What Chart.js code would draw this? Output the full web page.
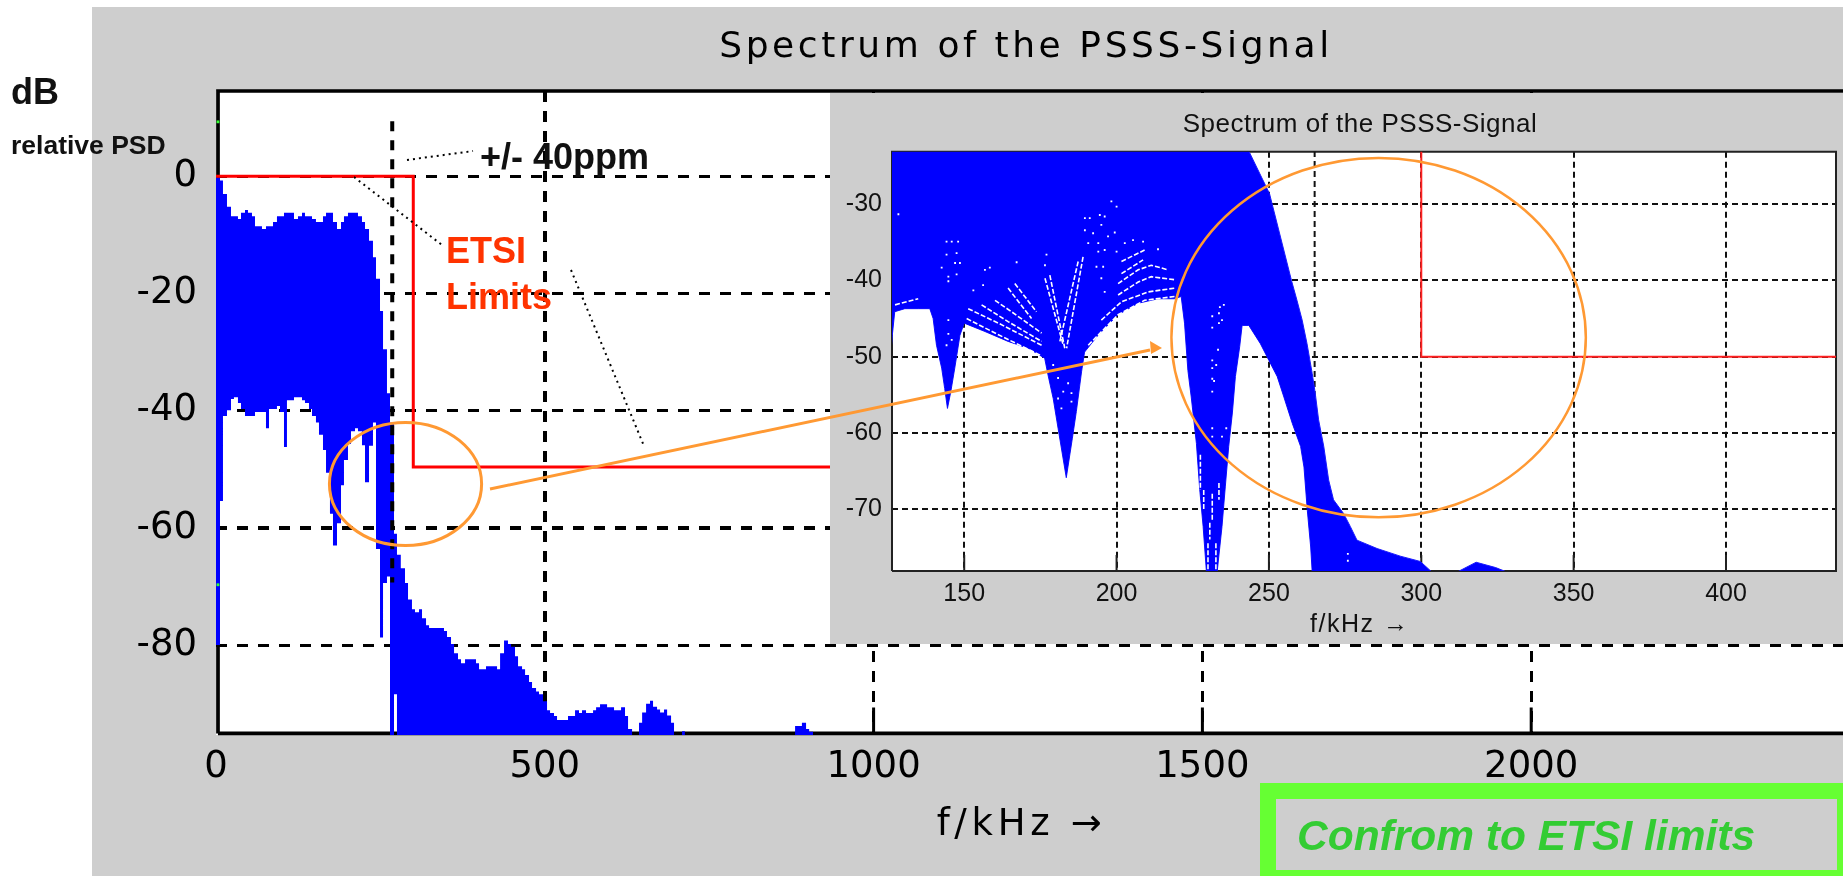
<!DOCTYPE html>
<html lang="en">
<head>
<meta charset="UTF-8">
<title>Spectrum of the PSSS-Signal</title>
<script src="https://cdn.jsdelivr.net/npm/chart.js"></script>
<style>
    html, body { margin: 0; width: 1843px; height: 876px; overflow: hidden; background: #fff; }
    canvas { position: absolute; background: #cecece; }
    #mainChart { left: 92px; top: 7px; }
    #insetChart { left: 830px; top: 93px; }
    #overlay { position: absolute; left: 0; top: 0; }
    .note { position: absolute; font-family: "Liberation Sans", Arial, sans-serif; font-weight: bold; line-height: 1; white-space: nowrap; }
    #confirmBox { position: absolute; left: 1260px; top: 783px; width: 583px; height: 93px; box-sizing: border-box;
        border: solid #66ff33; border-width: 16px 6px 6px 16px; }
</style>
</head>
<body>
<canvas id="mainChart" width="1868" height="869"></canvas>
<canvas id="insetChart" width="1060" height="551"></canvas>

<svg id="overlay" width="1843" height="876">
    <g stroke="#000" stroke-width="2" stroke-dasharray="2 4" fill="none">
        <line x1="354" y1="177" x2="442" y2="245"/>
        <line x1="571" y1="270" x2="644" y2="446"/>
        <line x1="407" y1="160" x2="473" y2="151"/>
    </g>
    <line x1="490" y1="489" x2="1150" y2="350" stroke="#ff9933" stroke-width="3"/>
    <polygon points="1162,348 1150,341 1151,354" fill="#ff9933"/>
</svg>

<div class="note" style="left:11px;top:74px;font-size:36px;color:#111">dB</div>
<div class="note" style="left:11px;top:132px;font-size:26.5px;color:#111">relative PSD</div>
<div class="note" style="left:480px;top:139px;font-size:36px;color:#111">+/- 40ppm</div>
<div class="note" style="left:446px;top:233px;font-size:36px;color:#ff3300">ETSI</div>
<div class="note" style="left:446px;top:279px;font-size:36px;color:#ff3300">Limits</div>
<div id="confirmBox"></div>
<div class="note" style="left:1297px;top:815px;font-size:42.5px;font-style:italic;color:#33cc33">Confrom to ETSI limits</div>

<script>
    // Main plot: the blue spectrum, one step per column
    const mainFreq = [0, 6, 10.6, 16.7, 22.8, 27.3, 33.4, 38, 44.1, 48.6, 54.7, 59.3, 65.4, 69.9, 76, 80.6, 86.7, 92.7, 97.3, 103.4,
        107.9, 114, 118.6, 124.7, 130.8, 135.3, 141.4, 146, 152, 156.6, 162.7, 167.3, 173.3, 177.9, 184, 190.1, 194.6, 200.7, 205.3, 211.4,
        215.9, 222, 226.6, 232.7, 238.7, 243.3, 249.4, 254, 260, 264.6, 270.7, 275.2, 281, 287.4, 292, 298, 302.6, 308.7, 313.3, 319.4,
        324, 346.7, 351.3, 357.4, 362, 368, 372.6, 378.7, 395.4, 400, 410.6, 427.4, 432, 438, 444, 448.7, 454.7, 459.3, 465.4, 470,
        476, 480.6, 486.7, 491.2, 497.3, 503.4, 508, 514, 518.6, 535.3, 546, 552, 556.6, 562.7, 573.4, 578, 584, 594.7, 605.3, 616,
        622, 626.6, 632.7, 643.3, 648, 654, 660, 664.6, 670.7, 675.3, 681.3, 686, 692, 696.5, 708.7, 713, 880.6, 891, 897.3, 902, 908];
    const mainUpperDb = [-0.2, -0.7, -3, -5.2, -6.8, -6.8, -7.3, -6.2, -5.75, -6.2, -6.8, -8.5, -8.5, -9, -8.5, -8.5, -7.8, -6.8, -6.8, -6.2,
        -6.2, -6.2, -7.3, -6.8, -6.2, -6.8, -6.8, -7.3, -7.8, -7.8, -6.8, -6.2, -6.2, -7.8, -9, -7.8, -6.8, -6.2, -6.2, -6.2,
        -6.8, -7.8, -9, -11, -13.8, -17.5, -23, -29.5, -37, -42, -61, -64.6, -66.9, -69.4, -72.2, -73.9, -74.4, -73.9, -75.4, -76.6,
        -77.1, -77.6, -78.6, -79.8, -81.4, -82.4, -83.1, -82.4, -83.1, -84.1, -83.6, -84.1, -81.4, -79.2, -79.8, -80.3, -81.9, -83.6, -84.1, -85.1,
        -86.3, -87.3, -87.9, -88.4, -89.6, -91.1, -91.6, -92.1, -92.8, -92.1, -91.1, -91.6, -91.1, -91.6, -91.1, -90.6, -90.1, -90.6, -91.1, -90.6,
        -92.1, -94.3, -95.4, -93.25, -91.5, -90, -89.5, -90.5, -91, -91.5, -91, -92, -93.25, -95.4, -94.7, -95.4, -93.8, -93.25, -94.3, -94.8, -95.4];
    const mainLowerDb = [-80, -55.4, -40.9, -39.9, -38, -37.7, -38.7, -39.7, -40.9, -40.9, -40.9, -40.2, -40.2, -40.2, -43, -39.7, -39.7, -39.2, -40.2, -46.2,
        -38.2, -38.2, -37.7, -37.7, -38.2, -38.7, -39.7, -40.9, -42, -44.1, -46.7, -50.6, -57.6, -63, -59.2, -52.7, -48.4, -45.7, -43.5, -43,
        -43.5, -45.9, -52.2, -46, -42, -63.6, -78.7, -69.4, -68.3, -95.4, -88.4, -95.4, -95.4, -95.4, -95.4, -95.4, -95.4, -95.4, -95.4, -95.4,
        -95.4, -95.4, -95.4, -95.4, -95.4, -95.4, -95.4, -95.4, -95.4, -95.4, -95.4, -95.4, -95.4, -95.4, -95.4, -95.4, -95.4, -95.4, -95.4, -95.4,
        -95.4, -95.4, -95.4, -95.4, -95.4, -95.4, -95.4, -95.4, -95.4, -95.4, -95.4, -95.4, -95.4, -95.4, -95.4, -95.4, -95.4, -95.4, -95.4, -95.4,
        -95.4, -95.4, -95.4, -95.4, -95.4, -95.4, -95.4, -95.4, -95.4, -95.4, -95.4, -95.4, -95.4, -95.4, -95.4, -95.4, -95.4, -95.4, -95.4, -95.4, -95.4];

    const limitFreq = [0, 300, 300, 2500];
    const limitDb = [0, 0, -49.6, -49.6];
    const driftFreq = [268, 268];
    const driftDb = [9.4, -69.3];
    const greenMarkFreq = [3, 3];
    const greenMarkDb = [9.3, -69.7];
    const mainXTicks = [0, 500, 1000, 1500, 2000];
    const mainYTicks = [-80, -60, -40, -20, 0];
    const mainCircle = { x: 288.2, y: -52.5, rx: 115.7, ry: 10.5 };

    // Zoomed plot: envelope of the spectrum
    const insetUpperFreq = [120, 243.4, 250.2, 257.4, 259.2, 260.9, 262.5, 264.2, 265.2, 266.3, 268, 269.6, 271.2, 274.5, 276.7, 278.9, 285.5, 293.1, 299.7, 303.5, 311.7, 318, 324.4, 328.2];
    const insetUpperDb = [-23, -23, -28.6, -40, -42.6, -45.2, -48.3, -52.2, -54.8, -58.3, -61.8, -66.2, -68.8, -70.6, -72.3, -74.1, -75.2, -76.2, -76.9, -78.3, -78.3, -77, -77.7, -78.3];
    const insetLowerFreq = [120, 126.4, 127.2, 130.5, 134.9, 138.7, 139.8, 140.9, 142.6, 143.6, 144.5, 145.6, 146.9, 148.6, 150, 156.8, 164.4, 171, 176.4, 177.5, 179.2, 180.8,
        183.5, 185.5, 186.8, 188.5, 189.5, 193.9, 200.5, 207, 213.6, 219, 221.2, 222.3, 223.4, 224.5, 226.2, 227.3, 228.4, 229.5, 233, 234.6, 235.7, 236.8, 238, 239, 240.4, 241.2,
        243.4, 247.2, 250, 252.7, 254.9, 257.7, 260.4, 261.5, 262.6, 263.7, 264.2, 328.2];
    const insetLowerDb = [-78.3, -47.2, -44.1, -43.7, -43.7, -43.7, -45, -48.5, -51.5, -54.2, -56.8, -54.6, -51.5, -47.2, -45.6, -46.7, -48, -48.9, -50.2, -52.4, -55.5, -59.4,
        -65.9, -60.7, -57.2, -52, -49.4, -47.2, -44.5, -43, -42.4, -42.4, -42.1, -45.6, -51.8, -55.3, -61.4, -67.5, -72.3, -78.3, -78.3, -72.3, -67, -61.8, -57.4, -52.6, -48.7, -45.9,
        -45.9, -48.3, -50.5, -52.6, -55.3, -58.8, -61.8, -64.5, -70.2, -75, -78.3, -78.3];

    // White streaks and specks left between the overlapping traces
    const insetStreaks = [
        [[150.8, -45], [160.1, -46.9], [175.4, -49.9]],
        [[151.3, -43.7], [161.2, -45.6], [175.4, -48.5]],
        [[155.7, -43.2], [164.4, -45.4], [175.4, -48]],
        [[160.1, -42.6], [165.5, -44.1], [175.4, -46.9]],
        [[164.4, -41], [172.1, -45]],
        [[166.6, -40.4], [173.7, -44.1]],
        [[176.5, -39.7], [182.5, -48.5]],
        [[178.1, -39.3], [183, -48.9]],
        [[189, -36.9], [183.6, -48.9]],
        [[187.4, -37.5], [181.4, -48]],
        [[190.7, -48.5], [200.5, -44.5], [209.2, -42.6], [219.1, -42.1]],
        [[195, -45.2], [201.6, -42.8], [210.3, -41.5], [219.1, -41]],
        [[200.5, -41.9], [207.1, -40.2], [211.4, -39.5], [219.1, -39.9]],
        [[200.5, -40.4], [207.1, -38.6], [211.4, -38], [216.9, -38.6]],
        [[201.6, -39.1], [208.7, -37.3]],
        [[201.6, -37.5], [209.2, -36]],
        [[127.3, -43.2], [134.9, -42.4]],
        [[230, -74.5], [230, -78.3]],
        [[232.6, -74.5], [232.6, -78.3]],
        [[227.5, -62.9], [227.5, -67.5]],
        [[228.6, -67.5], [228.6, -70.1]],
        [[231.4, -68], [231.4, -71.5]],
        [[233.6, -66.6], [233.6, -68.8]],
        [[230.6, -71.8], [230.6, -74]]
    ];
    const insetSpeckFreq = [128.4, 144.2, 145.9, 148, 144.2, 147.5, 147, 148.6, 142.6, 144.8, 144.8, 147.5, 189.6, 191.2, 194.5, 196.1, 198.3, 200, 189.6, 192.3,
        195, 199.4, 194, 197.2, 190.7, 202.7, 205.4, 208.7, 194, 196.1, 200, 213.6, 167.2, 158.4, 156.8, 153, 156.2, 177, 176.5, 193.4,
        195.6, 195, 196.1, 144.8, 144.8, 144.2, 145.9, 179.2, 180.8, 184.1, 182.5, 185.2, 180.8, 185.2, 181.9, 235.2, 233.9, 231.4, 233.6, 234.6,
        233.6, 231.4, 233.3, 231.4, 232.7, 231.4, 231.4, 232, 231.4, 231.4, 236, 231.4, 234.6, 275.9, 275.9];
    const insetSpeckDb = [-31.3, -34.9, -34.9, -34.9, -36.6, -36.4, -37.7, -37.7, -38.3, -39.5, -40.1, -39.2, -31.8, -31.8, -31.4, -31.6, -29.6, -30.3, -33.4, -33.8,
        -32.7, -33.7, -35.1, -34.2, -35.1, -35.1, -34.7, -34.9, -36.2, -36, -36.2, -35.9, -37.6, -38.3, -38.6, -41.3, -40.6, -36.6, -38, -38.2,
        -38.2, -39.7, -41.5, -45.2, -47, -48.5, -47.8, -51.1, -52.8, -53.5, -54.6, -54.8, -55.5, -55.9, -56.8, -43.2, -43.5, -44.7, -44.3, -45.2,
        -45.6, -46.2, -49.1, -50.5, -51.1, -51.5, -52.9, -53.2, -54.6, -59.4, -59.4, -60.5, -60.5, -75.9, -76.8];

    const insetLimitFreq = [300, 300, 440];
    const insetLimitDb = [-23, -50, -50];
    const insetDriftFreq = [265, 265];
    const insetDriftDb = [-23, -78.3];
    const insetXTicks = [150, 200, 250, 300, 350, 400];
    const insetYTicks = [-70, -60, -50, -40, -30];
    const insetCircle = { x: 286, y: -47.5, rx: 68, ry: 23.6 };

    const titleText = 'Spectrum of the PSSS-Signal';
    const xTitleText = 'f/kHz \u2192';

    function points(xs, ys) {
        return xs.map((x, i) => ({ x: x, y: ys[i] }));
    }

    // the original titles are stretched bitmaps, so they get some letter spacing
    function spaceOut(target, method, ctx, spacing) {
        const original = target[method];
        target[method] = function () {
            ctx.save();
            ctx.letterSpacing = spacing;
            original.apply(this, arguments);
            ctx.restore();
        };
    }

    // white plot area, frame, inner tick marks and the orange circle
    const framePlugin = {
        id: 'frame',
        beforeDraw(chart, args, opts) {
            const { ctx, chartArea: a } = chart;
            if (!chart.$spaced) {
                spaceOut(chart.titleBlock, 'draw', ctx, opts.titleSpacing);
                spaceOut(chart.scales.x, 'drawTitle', ctx, opts.xTitleSpacing);
                chart.$spaced = true;
            }
            ctx.fillStyle = '#fff';
            ctx.fillRect(a.left, a.top, a.right - a.left, a.bottom - a.top);
        },
        beforeDatasetsDraw(chart, args, opts) {
            const { ctx, chartArea: a, scales } = chart;
            const b = a.bottom - opts.bottomInset;
            const l = a.left + opts.leftInset;
            ctx.save();
            ctx.strokeStyle = opts.color;
            ctx.lineWidth = opts.width;
            ctx.beginPath();
            ctx.moveTo(l, b);
            ctx.lineTo(l, a.top);
            ctx.lineTo(a.right, a.top);
            ctx.lineTo(a.right, b);
            ctx.lineTo(l, b);
            ctx.stroke();
            ctx.lineWidth = opts.tickWidth;
            ctx.beginPath();
            scales.x.ticks.filter(t => t.value > scales.x.min).forEach(t => {
                const px = scales.x.getPixelForValue(t.value);
                ctx.moveTo(px, b);
                ctx.lineTo(px, b - opts.tickLen);
            });
            ctx.stroke();
            ctx.restore();
        },
        afterDatasetsDraw(chart, args, opts) {
            const { ctx, scales } = chart;
            const c = opts.circle;
            const cx = scales.x.getPixelForValue(c.x);
            const cy = scales.y.getPixelForValue(c.y);
            const rx = Math.abs(scales.x.getPixelForValue(c.x + c.rx) - cx);
            const ry = Math.abs(scales.y.getPixelForValue(c.y + c.ry) - cy);
            ctx.save();
            ctx.strokeStyle = '#ff9933';
            ctx.lineWidth = opts.circleWidth;
            ctx.beginPath();
            ctx.ellipse(cx, cy, rx, ry, 0, 0, Math.PI * 2);
            ctx.stroke();
            ctx.restore();
        }
    };

    // empty axis on the right keeps the plot narrower than the canvas without moving the title
    function rightMargin(width) {
        return {
            type: 'linear', position: 'right',
            afterFit(s) { s.width = width; },
            ticks: { display: false }, grid: { display: false }, border: { display: false }
        };
    }

    new Chart(document.getElementById('mainChart'), {
        type: 'line',
        data: {
            datasets: [
                { data: points(limitFreq, limitDb), borderColor: '#ff0000', borderWidth: 3, pointRadius: 0 },
                { data: points(driftFreq, driftDb), borderColor: '#000', borderWidth: 4, borderDash: [10, 9], pointRadius: 0 },
                { data: points(greenMarkFreq, greenMarkDb), showLine: false, pointStyle: 'rect', pointRadius: 2, pointBackgroundColor: '#33ff33', pointBorderWidth: 0 },
                { data: points(mainFreq, mainUpperDb), stepped: 'before', borderWidth: 0, pointRadius: 0, fill: '+1', backgroundColor: '#0000ff' },
                { data: points(mainFreq, mainLowerDb), stepped: 'before', borderWidth: 0, pointRadius: 0 }
            ]
        },
        options: {
            responsive: false,
            animation: false,
            events: [],
            plugins: {
                legend: { display: false },
                tooltip: { enabled: false },
                title: {
                    display: true, text: titleText, color: '#000',
                    font: { family: 'DejaVu Sans', size: 36, weight: 'normal' },
                    padding: { top: 19, bottom: 21.8 }
                },
                frame: { color: '#000', width: 3.7, bottomInset: 1.6, leftInset: 2, tickWidth: 3, tickLen: 26, circle: mainCircle, circleWidth: 3, titleSpacing: '3.6px', xTitleSpacing: '4.7px' }
            },
            scales: {
                x: {
                    type: 'linear', min: 0, max: 2500,
                    afterBuildTicks(s) { s.ticks = mainXTicks.map(v => ({ value: v })); },
                    afterFit(s) { s.height = 141; },
                    border: { display: false, dash: [11, 9] },
                    grid: { color: '#000', drawTicks: false, lineWidth: c => !c.tick || c.tick.value === 0 ? 0 : c.tick.value === 500 ? 4 : 3 },
                    ticks: { color: '#000', maxRotation: 0, autoSkip: false, padding: 10, font: { family: 'DejaVu Sans', size: 37 }, callback: v => String(v) },
                    title: { display: true, text: xTitleText + '\u00a0\u00a0', color: '#000', font: { family: 'DejaVu Sans', size: 37 }, padding: { top: 0, bottom: 28 } }
                },
                y: {
                    type: 'linear', min: -95.34, max: 14.56,
                    afterBuildTicks(s) { s.ticks = mainYTicks.map(v => ({ value: v })); },
                    afterFit(s) { s.width = 124; },
                    border: { display: false, dash: [11, 10] },
                    grid: { color: '#000', drawTicks: false, lineWidth: c => c.tick && c.tick.value === -60 ? 4 : 3 },
                    ticks: { color: '#000', autoSkip: false, padding: 19, font: { family: 'DejaVu Sans', size: 37 }, callback: v => String(v) }
                },
                yMargin: rightMargin(100)
            }
        },
        plugins: [framePlugin]
    });

    const streakSets = insetStreaks.map(s => ({
        data: s.map(p => ({ x: p[0], y: p[1] })), borderColor: '#ffffff', borderWidth: 1.6, borderDash: [5, 2], pointRadius: 0
    }));

    new Chart(document.getElementById('insetChart'), {
        type: 'line',
        data: {
            datasets: [
                { data: points(insetLimitFreq, insetLimitDb), borderColor: '#ff2020', borderWidth: 2, pointRadius: 0 },
                { data: points(insetSpeckFreq, insetSpeckDb), showLine: false, pointStyle: 'rect', pointRadius: 1.3, pointBackgroundColor: '#ffffff', pointBorderWidth: 0 },
                ...streakSets,
                { data: points(insetUpperFreq, insetUpperDb), borderWidth: 1, borderColor: '#1a1aff', pointRadius: 0, fill: '+1', backgroundColor: '#0000ff' },
                { data: points(insetLowerFreq, insetLowerDb), borderWidth: 1, borderColor: '#1a1aff', pointRadius: 0 },
                { data: points(insetDriftFreq, insetDriftDb), borderColor: '#111', borderWidth: 2, borderDash: [6, 4], pointRadius: 0 }
            ]
        },
        options: {
            responsive: false,
            animation: false,
            events: [],
            plugins: {
                legend: { display: false },
                tooltip: { enabled: false },
                title: {
                    display: true, text: titleText, color: '#111',
                    font: { family: 'Liberation Sans', size: 26, weight: 'normal' },
                    padding: { top: 16, bottom: 11.6 }
                },
                frame: { color: '#222', width: 2, bottomInset: 0, leftInset: 0, tickWidth: 2, tickLen: 16, circle: insetCircle, circleWidth: 2.5, titleSpacing: '0.5px', xTitleSpacing: '1.5px' }
            },
            scales: {
                x: {
                    type: 'linear', min: 126.3, max: 436.1,
                    afterBuildTicks(s) { s.ticks = insetXTicks.map(v => ({ value: v })); },
                    afterFit(s) { s.height = 73; },
                    border: { display: false, dash: [6, 4] },
                    grid: { color: '#111', drawTicks: false, lineWidth: 2 },
                    ticks: { color: '#111', maxRotation: 0, autoSkip: false, padding: 8, font: { family: 'Liberation Sans', size: 25 }, callback: v => String(v) },
                    title: { display: true, text: xTitleText + '\u00a0', color: '#111', font: { family: 'Liberation Sans', size: 25 }, padding: { top: 0, bottom: 4 } }
                },
                y: {
                    type: 'linear', min: -78.15, max: -23.1,
                    afterBuildTicks(s) { s.ticks = insetYTicks.map(v => ({ value: v })); },
                    afterFit(s) { s.width = 62; },
                    border: { display: false, dash: [6, 4] },
                    grid: { color: '#111', drawTicks: false, lineWidth: 2 },
                    ticks: { color: '#111', autoSkip: false, padding: 10, font: { family: 'Liberation Sans', size: 25 }, callback: v => String(v) }
                },
                yMargin: rightMargin(54)
            }
        },
        plugins: [framePlugin]
    });
</script>
</body>
</html>
